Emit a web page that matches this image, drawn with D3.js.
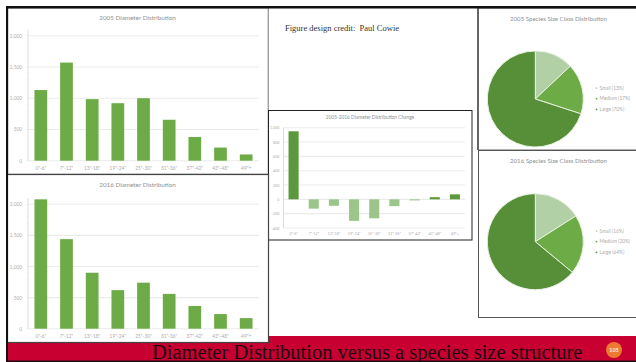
<!DOCTYPE html>
<html>
<head>
<meta charset="utf-8">
<script src="https://cdn.jsdelivr.net/npm/d3@7"></script>
<style>
html,body{margin:0;padding:0;background:#fff;overflow:hidden}
svg{display:block}
</style>
</head>
<body>
<svg id="slide" width="636" height="362"></svg>
<script>
// Diameter classes shared by the three bar charts
const diameterClasses = ['0"-6"','7"-12"','13"-18"','19"-24"','25"-30"','31"-36"','37"-42"','43"-48"','49"+'];
const counts2005 = [1130,1570,985,920,1000,655,380,210,100];
const counts2016 = [2080,1440,900,620,740,560,365,235,170];
const countChange = [950,-130,-90,-300,-265,-95,-15,30,70];
const countTicks = [0,500,1000,1500,2000];
const countMinorTicks = d3.range(0,2001,100);
const changeTicks = [-400,-200,0,200,400,600,800,1000];

// Species size class shares
const sizeClasses = ["Small","Medium","Large"];
const shares2005 = [13,17,70];
const shares2016 = [16,20,64];
const sizeColors = ["#b2d0a6","#6dab46","#568f37"];

const svg = d3.select("#slide");
const labelFont = "Lato, 'Open Sans', sans-serif";

function panel(x0,y0,x1,y1,stroke,w){
  svg.append("rect").attr("x",x0).attr("y",y0).attr("width",x1-x0).attr("height",y1-y0)
    .attr("fill","#fff").attr("stroke",stroke).attr("stroke-width",w);
}

function barChart(o){
  const x = d3.scaleBand().domain(diameterClasses).range([o.left,o.right]).paddingInner(o.pad).paddingOuter(o.pad/2);
  const y = d3.scaleLinear().domain(o.domain).range([o.bottom,o.top]);
  const g = svg.append("g");

  g.append("g").selectAll("line").data(o.ticks).join("line")
    .attr("x1",o.left).attr("x2",o.right)
    .attr("y1",d=>y(d)).attr("y2",d=>y(d))
    .attr("stroke","#ebebeb").attr("stroke-width",1.1);

  g.append("line").attr("x1",o.left).attr("x2",o.left)
    .attr("y1",o.top-o.axisOver).attr("y2",o.bottom).attr("stroke","#dcdcdc");

  g.append("g").selectAll("line").data(o.minor).join("line")
    .attr("x1",o.left-1.5).attr("x2",o.left)
    .attr("y1",d=>y(d)).attr("y2",d=>y(d))
    .attr("stroke","#e6e6e6").attr("stroke-width",0.6);

  g.append("g").selectAll("rect").data(o.values).join("rect")
    .attr("x",(d,i)=>x(diameterClasses[i]))
    .attr("width",x.bandwidth())
    .attr("y",d=>y(Math.max(d,0)))
    .attr("height",d=>Math.abs(y(d)-y(0)))
    .attr("fill",o.color);

  const yAxis = d3.axisLeft(y).tickValues(o.ticks).tickSize(0).tickPadding(o.yPad);
  const ya = g.append("g").attr("transform",`translate(${o.left},0)`).call(yAxis);
  ya.select(".domain").remove();
  ya.selectAll("text").attr("fill","#adadad").attr("font-size",o.fs).attr("font-family",labelFont);

  const xAxis = d3.axisBottom(x).tickSize(0).tickPadding(o.xPad);
  const xa = g.append("g").attr("transform",`translate(0,${o.bottom})`).call(xAxis);
  xa.select(".domain").remove();
  xa.selectAll("text").attr("fill","#adadad").attr("font-size",o.fs).attr("font-family",labelFont);

  g.append("text").attr("x",o.titleX).attr("y",o.titleY).attr("text-anchor","middle")
    .attr("font-family",labelFont).attr("font-size",o.titleFs).attr("fill","#8f8f8f").text(o.title);
}

function pieChart(o){
  const pie = d3.pie().sort(null).value(d=>d);
  const arc = d3.arc().innerRadius(0).outerRadius(o.r);
  const g = svg.append("g").attr("transform",`translate(${o.cx},${o.cy})`);
  g.selectAll("path").data(pie(o.values)).join("path")
    .attr("d",arc).attr("fill",(d,i)=>sizeColors[i])
    .attr("stroke","#e6f0df").attr("stroke-width",1);

  svg.append("text").attr("x",o.titleX).attr("y",o.titleY).attr("text-anchor","middle")
    .attr("font-family",labelFont).attr("font-size",6.1).attr("fill","#8f8f8f").text(o.title);

  const lg = svg.append("g").selectAll("g").data(sizeClasses).join("g")
    .attr("transform",(d,i)=>`translate(${o.legendX},${o.legendY+i*10.6})`);
  lg.append("circle").attr("r",0.9).attr("cy",-1.7).attr("fill",(d,i)=>sizeColors[i]);
  lg.append("text").attr("x",3).attr("font-family",labelFont).attr("font-size",4.8).attr("fill","#adadad")
    .text((d,i)=>`${d} (${o.values[i]}%)`);
}

// Footer band
svg.append("rect").attr("x",6).attr("y",336).attr("width",630).attr("height",26).attr("fill","#c80032");
svg.append("rect").attr("x",6).attr("y",360.5).attr("width",630).attr("height",1.5).attr("fill","#220a10");

// Panels
panel(478.5,8,637,150,"#666",1);
panel(478.5,150.5,637,317.5,"#555",1);
svg.append("line").attr("x1",268).attr("x2",268).attr("y1",8).attr("y2",110).attr("stroke","#666");
svg.append("line").attr("x1",477.5).attr("x2",477.5).attr("y1",8).attr("y2",150).attr("stroke","#666");
panel(8,8,268,174,"#666",0.5);
panel(268.5,110.5,472,240,"#222",1);
panel(7.5,174.5,268.5,342.5,"#444",1.2);

// Slide frame along the top and left edges
svg.append("rect").attr("x",6).attr("y",6).attr("width",630).attr("height",2.5).attr("fill","#111");
svg.append("rect").attr("x",6).attr("y",7).attr("width",2).attr("height",355).attr("fill","#111");

svg.append("text").attr("x",285).attr("y",31)
  .attr("font-family","'Liberation Serif', serif").attr("font-size",8.5).attr("fill","#333")
  .style("white-space","pre").text("Figure design credit:  Paul Cowie");

barChart({values:counts2005,domain:[0,2000],ticks:countTicks,minor:countMinorTicks,left:28,right:259,top:35.7,bottom:160.7,pad:0.505,axisOver:6,
  color:"#6dab46",fs:4.8,yPad:6,xPad:5.5,title:"2005 Diameter Distribution",titleX:137.5,titleY:19.5,titleFs:6.3});
barChart({values:counts2016,domain:[0,2000],ticks:countTicks,minor:countMinorTicks,left:28,right:259,top:204.3,bottom:328.7,pad:0.505,axisOver:6,
  color:"#6dab46",fs:4.8,yPad:6,xPad:5.5,title:"2016 Diameter Distribution",titleX:137.5,titleY:187,titleFs:6.3});

// Growth and decline are shaded differently in the change chart
barChart({values:countChange,domain:[-400,1000],ticks:changeTicks,minor:[],left:283.5,right:465,top:127.7,bottom:228,pad:0.5,axisOver:0,
  color:d=>d>0?"#5a9a3c":"#9cc58a",fs:3.7,yPad:4,xPad:4,title:"2005-2016 Diameter Distribution Change",titleX:370,titleY:119,titleFs:4.8});

pieChart({values:shares2005,cx:535.3,cy:99,r:48,titleX:558.5,titleY:21,legendX:596.5,legendY:89.8,title:"2005 Species Size Class Distribution"});
pieChart({values:shares2016,cx:535.3,cy:241.7,r:48,titleX:558.5,titleY:163,legendX:596.5,legendY:232.8,title:"2016 Species Size Class Distribution"});

// Footer title and page badge
svg.append("text").attr("x",152).attr("y",359)
  .attr("font-family","'Liberation Serif', serif").attr("font-size",20.5).attr("fill","#1c0810")
  .text("Diameter Distribution versus a species size structure");
svg.append("circle").attr("cx",614).attr("cy",350).attr("r",8).attr("fill","#ec7a30");
svg.append("text").attr("x",614).attr("y",352).attr("text-anchor","middle")
  .attr("font-family",labelFont).attr("font-size",5.5).attr("font-weight",700).attr("fill","#fbe6d6").text("105");
</script>
</body>
</html>
